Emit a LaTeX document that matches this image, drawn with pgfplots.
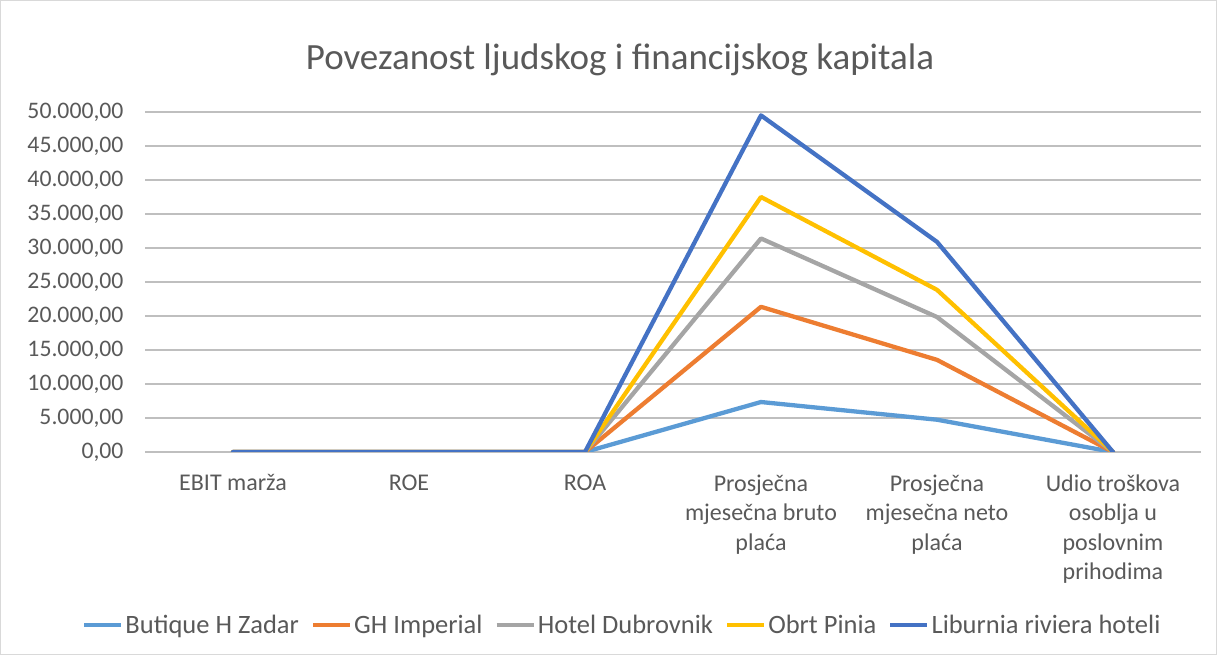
\documentclass[border=0pt]{standalone}
\usepackage{pgfplots}
\pgfplotsset{compat=1.18}
\usepackage{fontspec}
\setmainfont{Carlito}
\definecolor{cA}{HTML}{5B9BD5}
\definecolor{cB}{HTML}{ED7D31}
\definecolor{cC}{HTML}{A5A5A5}
\definecolor{cD}{HTML}{FFC000}
\definecolor{cE}{HTML}{4472C4}
\definecolor{txt}{HTML}{595959}
\definecolor{grid}{HTML}{D9D9D9}
\begin{document}
\begin{tikzpicture}[x=1pt,y=1pt]
\draw[grid, line width=1pt] (0.5,0.5) rectangle (1216.5,654.5);
\node[txt, font=\fontsize{37}{42}\selectfont] at (620,595) {Povezanost ljudskog i financijskog kapitala};
\begin{axis}[
  at={(145pt,203pt)}, anchor=south west,
  scale only axis, width=1056pt, height=340pt,
  xmin=-0.5, xmax=5.5, ymin=0, ymax=50000,
  ytick={0,5000,...,50000},
  scaled y ticks=false,
  /pgf/number format/fixed,
  /pgf/number format/fixed zerofill,
  /pgf/number format/precision=2,
  /pgf/number format/use comma,
  /pgf/number format/1000 sep={.},
  /pgf/number format/assume math mode=true,
  yticklabel style={font=\fontsize{23.7}{27}\selectfont, text=txt, xshift=-18pt},
  xtick={0,1,2,3,4,5},
  xticklabels={{EBIT marža},{ROE},{ROA},{Prosječna\\mjesečna bruto\\plaća},{Prosječna\\mjesečna neto\\plaća},{Udio troškova\\osoblja u\\poslovnim\\prihodima}},
  xticklabel style={font=\fontsize{24}{29.5}\selectfont, text=txt, align=center, anchor=north, yshift=-19pt},
  axis line style={draw=none},
  tick style={draw=none},
  xmajorgrids=false,
  ymajorgrids, grid style={grid, line width=1.3pt},
  every axis plot/.append style={line width=4.3pt, line join=round, line cap=round},
  legend columns=5,
  legend style={at={(0.452,-0.509)}, anchor=center, draw=none, fill=none, font=\fontsize{26.5}{30}\selectfont, text=txt, /tikz/every even column/.append style={column sep=10pt}},
  legend image code/.code={\draw[#1, line cap=butt] (0pt,0pt) -- (37pt,0pt);},
]
\addplot[cA] coordinates {(0,0) (1,0) (2,0) (3,7350) (4,4750) (5,0)};
\addlegendentry{Butique H Zadar}
\addplot[cB] coordinates {(0,0) (1,0) (2,0) (3,21350) (4,13550) (5,0)};
\addlegendentry{GH Imperial}
\addplot[cC] coordinates {(0,0) (1,0) (2,0) (3,31400) (4,19850) (5,0)};
\addlegendentry{Hotel Dubrovnik}
\addplot[cD] coordinates {(0,0) (1,0) (2,0) (3,37500) (4,23850) (5,0)};
\addlegendentry{Obrt Pinia}
\addplot[cE] coordinates {(0,0) (1,0) (2,0) (3,49500) (4,30900) (5,0)};
\addlegendentry{Liburnia riviera hoteli}
\end{axis}
\end{tikzpicture}
\end{document}
